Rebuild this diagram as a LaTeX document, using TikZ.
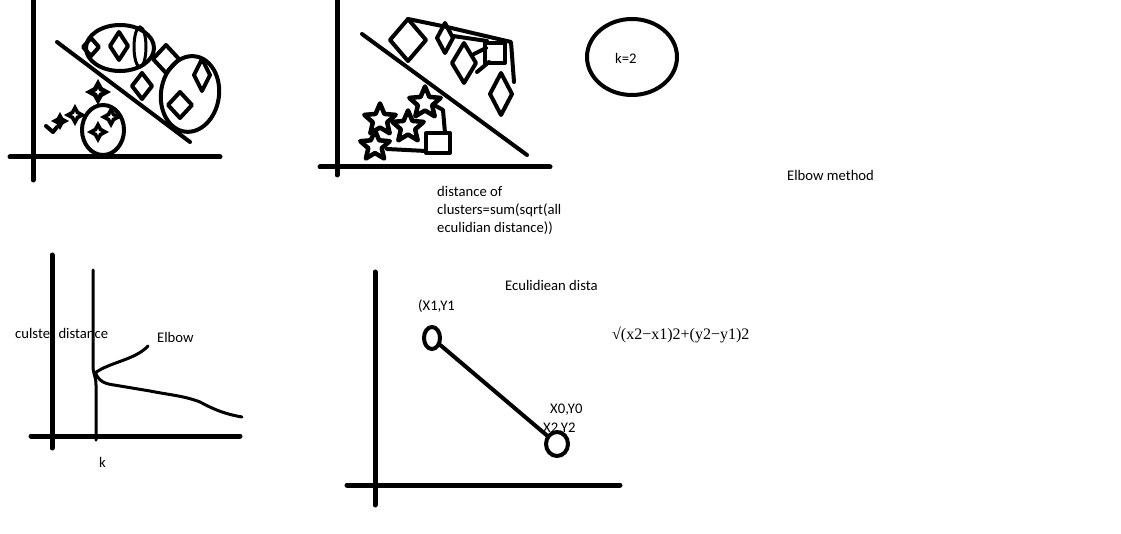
\documentclass[tikz,border=0pt]{standalone}
\usepackage{fontspec}
\setmainfont{Carlito}
\newfontfamily\formfont{Liberation Serif}
\usetikzlibrary{shapes.geometric}
\newcommand\mydmd[4]{\draw[shp] (#1,#2) ++(0,-#4) -- ++(#3,#4) -- ++(-#3,#4) -- ++(-#3,-#4) -- cycle;}
\tikzset{
 ax/.style={line width=5pt, line cap=round},
 shp/.style={line width=4pt, line join=round, line cap=round},
 thinln/.style={line width=3pt, line cap=round, line join=round},
 lbl/.style={inner sep=0pt, anchor=west, font=\fontsize{14.67}{18}\selectfont},
 sstar/.style={star, star points=5, star point ratio=2.2, draw, line width=4.5pt, line join=round, minimum size=33pt, inner sep=0pt},
 spark/.style={star, star points=4, star point ratio=2.0, fill=black, minimum size=22pt, inner sep=0pt},
 wspark/.style={star, star points=4, star point ratio=2.6, fill=white, minimum size=7pt, inner sep=0pt},
 oval/.style={ellipse, draw, line width=4pt, inner sep=0pt},
}
\begin{document}
\begin{tikzpicture}[x=1pt,y=-1pt]
\useasboundingbox[fill=white] (0,0) rectangle (1121,534);

% ---------- panel 1 ----------
\draw[ax] (33,0) -- (33,180);
\draw[ax] (10,157) -- (220,157);
\draw[shp] (57,42) -- (190,142);
\node[oval, minimum width=68pt, minimum height=46pt] (e1) at (120,48) {};
\node[oval, line width=3pt, minimum width=12pt, minimum height=40pt] (e1b) at (140,47) {};
\node[oval, minimum width=58pt, minimum height=76pt, rotate=-8] (e2) at (190,94) {};
\node[oval, minimum width=42pt, minimum height=50pt] (e3) at (103,130) {};
\mydmd{91}{47}{8}{9}
\mydmd{119}{46}{9}{14}
\mydmd{166}{59}{13}{14}
\mydmd{142}{86}{10}{13}
\mydmd{202}{75}{8}{16}
\mydmd{180}{105}{12}{13}
\node[spark, minimum size=26pt] (s1) at (98,92) {};
\node[wspark] (s1w) at (s1) {};
\node[spark] (s2) at (75,115) {};
\node[wspark] (s2w) at (s2) {};
\node[spark] (s3) at (111,117) {};
\node[wspark] (s3w) at (s3) {};
\node[spark] (s4) at (98,132) {};
\node[wspark] (s4w) at (s4) {};
\node[spark, minimum size=18pt] (s5) at (60,121) {};
\draw[shp] (46,126) -- (53,132) -- (57,127);

% ---------- panel 2 ----------
\draw[ax] (337,0) -- (337,175);
\draw[ax] (320,167) -- (550,167);
\draw[shp] (362,34) -- (527,155);
\mydmd{408}{40}{18}{21}
\mydmd{445}{38}{8}{15}
\mydmd{464}{63}{12}{20}
\mydmd{501}{94}{11}{21}
\draw[shp] (485,43) rectangle (505,63);
\draw[shp] (408,19) -- (447,27) -- (511,42) -- (514,82);
\draw[shp] (453,36) -- (487,41);
\draw[shp] (474,54) -- (486,48);
\draw[shp] (477,72) -- (489,62);
\node[sstar] (t1) at (380,120) {};
\node[sstar] (t2) at (425,103) {};
\node[sstar] (t3) at (408,127) {};
\node[sstar, minimum size=31pt] (t4) at (375,146) {};
\draw[shp] (426,133) rectangle (450,153);
\draw[shp] (436,106) -- (443,110) -- (445,133);
\draw[shp] (387,149) -- (426,151);

% ---------- k=2 and labels ----------
\node[oval, minimum width=90pt, minimum height=76pt] (k2) at (632,57) {};
\node[lbl] (k2t) at (615,58) {k=2};
\node[lbl] (elbm) at (787,175) {Elbow method};
\node[lbl, anchor=north west, align=left] (dist) at (437,186) {distance of\\clusters=sum(sqrt(all\\eculidian distance))};

% ---------- panel 3 ----------
\node[lbl] (cd) at (15,333) {culster distance};
\node[lbl] (elb) at (157,337) {Elbow};
\node[lbl] (kk) at (99,462) {k};
\draw[ax] (52,255) -- (52,448);
\draw[ax] (31,436) -- (240,436);
\draw[thinln] (93,270) -- (93,366) .. controls (93,374) and (96,376) .. (96,385) -- (96,440);
\draw[thinln] (95,373) .. controls (110,362) and (135,360) .. (148,346);
\draw[thinln] (95,372) .. controls (100,385) and (110,384) .. (120,386) -- (150,391)
  .. controls (170,395) and (185,396) .. (200,402) .. controls (215,410) and (225,414) .. (242,417);

% ---------- panel 4 ----------
\node[lbl] (eu) at (505,285) {Eculidiean dista};
\node[lbl] (x1) at (418,306) {(X1,Y1};
\node[lbl] (x0) at (550,410) {X0,Y0};
\node[lbl] (x2) at (543,429) {X2,Y2};
\node[lbl, font=\formfont\fontsize{16}{18}\selectfont] (form) at (612,335) {√(x2−x1)2+(y2−y1)2};
\draw[ax] (375,272) -- (375,505);
\draw[ax] (347,485) -- (620,485);
\node[oval, minimum width=16pt, minimum height=22pt] (p1) at (432,338) {};
\node[oval, minimum width=22pt, minimum height=24pt] (p2) at (557,444) {};
\draw[shp] (p1) -- (p2);
\end{tikzpicture}
\end{document}
